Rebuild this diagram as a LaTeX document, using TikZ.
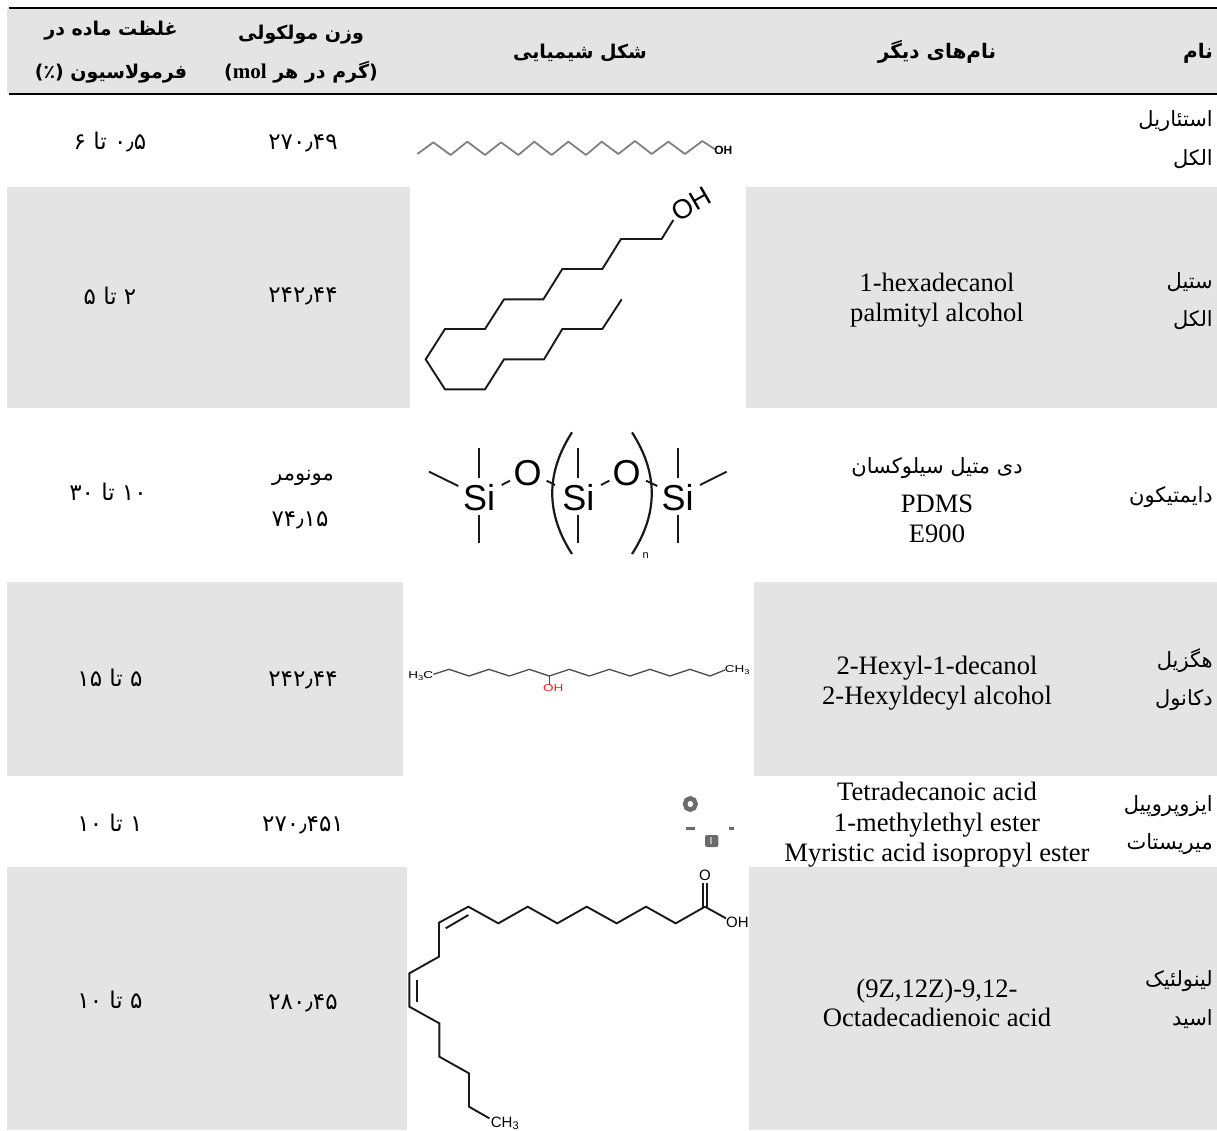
\documentclass[tikz,border=0pt]{standalone}
\usepackage{fontspec}
\setmainfont{Liberation Serif}
\setsansfont{Liberation Sans}
\newfontfamily\fa[Script=Arabic]{DejaVu Sans}
\TeXXeTstate=1
\newcommand\rtl[1]{\beginR#1\endR}
\newcommand\ltr[1]{\beginL#1\endL}
\definecolor{band}{HTML}{E4E4E4}
\tikzset{
  zm/.style 2 args={shift={(#1,#2)},x=0.33333pt,y=-0.33333pt},
  bandfill/.style={fill=band,draw=none},
  rulebar/.style={line width=2.4pt,black},
  fatxt/.style={inner sep=0pt,anchor=base,font=\fa\fontsize{21}{24}\selectfont},
  famark/.style={inner sep=0pt,anchor=base east,font=\fa\fontsize{21}{24}\selectfont},
  fanum/.style={inner sep=0pt,anchor=base,font=\fa\fontsize{23}{26}\selectfont},
  fahead/.style={inner sep=0pt,anchor=base,font=\fa\bfseries\fontsize{19}{24}\selectfont},
  latin/.style={inner sep=0pt,anchor=base,font=\fontsize{26.6}{30}\selectfont},
  bond/.style={line width=1.9pt,black!90,line join=miter},
  graybond/.style={line width=1.8pt,black!50,line join=round},
  darkbond/.style={line width=1.3pt,black!70,line join=round},
  blob/.style={fill=black!58,draw=none},
  atom/.style={inner sep=0pt,font=\sffamily\fontsize{15}{18}\selectfont},
  siatom/.style={inner sep=0pt,font=\sffamily\fontsize{36}{40}\selectfont},
  tinyatom/.style={inner sep=0pt,xscale=1.35,font=\sffamily\fontsize{10}{11}\selectfont},
}
\begin{document}
\begin{tikzpicture}[x=1pt,y=-1pt]
\useasboundingbox (0,0) rectangle (1217,1130);
% bands
\fill[bandfill] (7,9) rectangle (1217,93);
\fill[bandfill] (7,187) rectangle (410,408);
\fill[bandfill] (746,187) rectangle (1217,408);
\fill[bandfill] (7,582) rectangle (403,776);
\fill[bandfill] (754,582) rectangle (1217,776);
\fill[bandfill] (7,867) rectangle (407,1130);
\fill[bandfill] (749,867) rectangle (1217,1130);
% rules
\coordinate (ta) at (9,8); \coordinate (tb) at (1217,8);
\coordinate (ma) at (9,93.8); \coordinate (mb) at (1217,93.8);
\draw[rulebar,line width=2pt] (ta) -- (tb);
\draw[rulebar] (ma) -- (mb);
% header
\node[fahead,anchor=base east,font=\fa\bfseries\fontsize{20}{24}\selectfont] (h1) at (1213,58) {\rtl{نام}};
\node[fahead,font=\fa\bfseries\fontsize{20}{24}\selectfont] (h2) at (937,58) {\rtl{نام‌های دیگر}};
\node[fahead] (h3) at (580,58) {\rtl{شکل شیمیایی}};
\node[fahead] (h4a) at (301,39) {\rtl{وزن مولکولی}};
\node[fahead] (h4b) at (301,78) {\rtl{(گرم در هر \ltr{{\rmfamily\bfseries\fontsize{21}{24}\selectfont mol}})}};
\node[fahead] (h5a) at (111,35) {\rtl{غلظت ماده در}};
\node[fahead] (h5b) at (111,78) {\rtl{فرمولاسیون (٪)}};
% names
\node[famark] (n1a) at (1213,126) {\rtl{استئاریل}};
\node[famark] (n1b) at (1213,165) {\rtl{الکل}};
\node[famark] (n2a) at (1213,288) {\rtl{ستیل}};
\node[famark] (n2b) at (1213,326) {\rtl{الکل}};
\node[famark] (n3) at (1213,502) {\rtl{دایمتیکون}};
\node[famark] (n4a) at (1213,667) {\rtl{هگزیل}};
\node[famark] (n4b) at (1213,705) {\rtl{دکانول}};
\node[famark] (n5a) at (1213,811) {\rtl{ایزوپروپیل}};
\node[famark] (n5b) at (1213,849) {\rtl{میریستات}};
\node[famark] (n6a) at (1213,986) {\rtl{لینولئیک}};
\node[famark] (n6b) at (1213,1025) {\rtl{اسید}};
% other names
\node[latin] (o2a) at (937,291) {1-hexadecanol};
\node[latin] (o2b) at (937,321.5) {palmityl alcohol};
\node[fatxt] (o3a) at (937,473) {\rtl{دی متیل سیلوکسان}};
\node[latin] (o3b) at (937,512) {PDMS};
\node[latin] (o3c) at (937,542) {E900};
\node[latin] (o4a) at (937,674) {2-Hexyl-1-decanol};
\node[latin] (o4b) at (937,704) {2-Hexyldecyl alcohol};
\node[latin] (o5a) at (937,800) {Tetradecanoic acid};
\node[latin] (o5b) at (937,831) {1-methylethyl ester};
\node[latin] (o5c) at (937,861) {Myristic acid isopropyl ester};
\node[latin] (o6a) at (937,997) {(9Z,12Z)-9,12-};
\node[latin] (o6b) at (937,1026) {Octadecadienoic acid};
% weights
\node[fanum] (w1) at (303,149) {\ltr{۲۷۰٫۴۹}};
\node[fanum] (w2) at (303,302) {\ltr{۲۴۲٫۴۴}};
\node[fatxt] (w3a) at (303,480) {\rtl{مونومر}};
\node[fanum] (w3b) at (300,526) {\ltr{۷۴٫۱۵}};
\node[fanum] (w4) at (303,686) {\ltr{۲۴۲٫۴۴}};
\node[fanum] (w5) at (303,831) {\ltr{۲۷۰٫۴۵۱}};
\node[fanum] (w6) at (303,1009) {\ltr{۲۸۰٫۴۵}};
% concentration
\node[fanum] (c1) at (110,149) {\rtl{\ltr{۰٫۵} تا \ltr{۶}}};
\node[fanum] (c2) at (110,304) {\rtl{\ltr{۲} تا \ltr{۵}}};
\node[fanum] (c3) at (108,500) {\rtl{\ltr{۱۰} تا \ltr{۳۰}}};
\node[fanum] (c4) at (110,686) {\rtl{\ltr{۵} تا \ltr{۱۵}}};
\node[fanum] (c5) at (110,831) {\rtl{\ltr{۱} تا \ltr{۱۰}}};
\node[fanum] (c6) at (110,1008) {\rtl{\ltr{۵} تا \ltr{۱۰}}};
% molecule 1: stearyl
\begin{scope}[zm={400}{90}]
\draw[graybond] (52,192)--(100,157)--(152,195)--(202,155)--(255,195)--(303,157)--(355,195)--(403,155)--(455,195)--(505,155)--(558,195)--(605,155)--(655,192)--(705,153)--(755,192)--(805,155)--(855,192)--(907,153)--(945,178);
\node[inner sep=0pt,font=\sffamily\bfseries\fontsize{12}{14}\selectfont] (m1oh) at (970,181) {OH};
% molecule 2: cetyl
\draw[bond] (820,390)--(785,447)--(663,447)--(607,537)--(487,537)--(430,628)--(312,628)--(255,717)--(135,717)--(77,808)--(135,898)--(255,898)--(312,808)--(432,808)--(487,717)--(607,717)--(665,628);
\node[atom,rotate=30,font=\sffamily\fontsize{27}{30}\selectfont] (m2oh) at (873,342) {OH};
\end{scope}
% molecule 3: dimethicone
\begin{scope}[zm={400}{410}]
\node[siatom] (s1) at (237,262) {Si};
\node[siatom] (s2) at (535,262) {Si};
\node[siatom] (s3) at (833,262) {Si};
\node[siatom] (ox1) at (383,190) {O};
\node[siatom] (ox2) at (680,190) {O};
\node[inner sep=0pt,font=\sffamily\fontsize{11}{13}\selectfont] (nn) at (737,437) {n};
\draw[bond] (87,185)--(175,228);
\draw[bond] (237,115)--(237,205);
\draw[bond] (237,315)--(237,398);
\draw[bond] (305,225)--(330,212);
\draw[bond] (440,212)--(465,225);
\draw[bond] (535,115)--(535,205);
\draw[bond] (535,315)--(535,398);
\draw[bond] (603,225)--(628,212);
\draw[bond] (738,212)--(772,228);
\draw[bond] (833,115)--(833,205);
\draw[bond] (833,315)--(833,398);
\draw[bond] (900,225)--(980,185);
\draw[bond,line width=2.2pt] (516,67) .. controls (437,190) and (437,310) .. (516,432);
\draw[bond,line width=2.2pt] (696,67) .. controls (775,190) and (775,310) .. (696,432);
\end{scope}
% molecule 4: hexyldecanol
\begin{scope}[zm={400}{620}]
\draw[darkbond] (100,163)--(147,148)--(207,168)--(267,148)--(328,168)--(388,148)--(448,168)--(508,148)--(568,168)--(628,148)--(690,168)--(750,148)--(810,168)--(870,148)--(930,168)--(975,150);
\draw[darkbond] (448,168)--(448,195);
\node[tinyatom] (m4a) at (62,168) {H\raisebox{-1.5pt}{\fontsize{7}{8}\selectfont 3}C};
\node[tinyatom] (m4b) at (1012,150) {CH\raisebox{-1.5pt}{\fontsize{7}{8}\selectfont 3}};
\node[tinyatom,red!90!white] (m4c) at (460,205) {OH};
% molecule 5: isopropyl myristate remnants
\draw[line width=4.5pt,black!58] (871,552) ellipse (16 and 17);
\fill[blob] (858,620) rectangle (884,629);
\fill[blob] (988,620) rectangle (1003,629);
\fill[blob,rounded corners=2pt] (915,645) rectangle (955,681);
\fill[black!30] (929,650) rectangle (936,672);
\end{scope}
% molecule 6: linoleic acid
\begin{scope}[zm={400}{860}]
\draw[bond] (915,140)--(827,190)--(738,140)--(650,190)--(560,140)--(472,190)--(383,140)--(295,190)--(205,140)--(117,188)--(117,290)--(28,340)--(28,440)--(118,490)--(118,590)--(207,640)--(207,740)--(268,775);
\draw[bond] (137,205)--(205,165);
\draw[bond] (50,360)--(50,425);
\draw[bond] (908,140)--(908,68);
\draw[bond] (922,140)--(922,68);
\draw[bond] (915,140)--(978,175);
\node[atom] (m6o) at (915,47) {O};
\node[atom] (m6oh) at (1012,187) {OH};
\node[atom,anchor=west] (m6c) at (272,790) {CH\raisebox{-2pt}{\fontsize{11}{13}\selectfont 3}};
\end{scope}
\end{tikzpicture}
\end{document}
